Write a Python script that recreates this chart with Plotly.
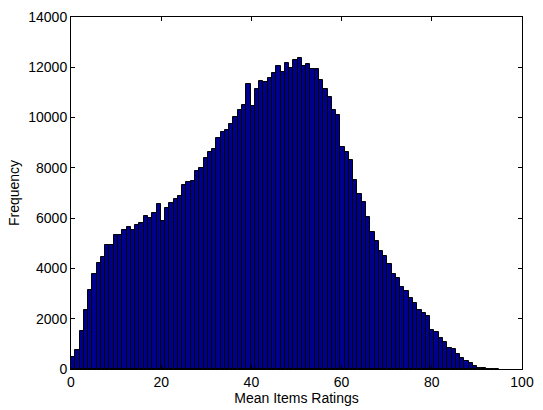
import plotly.graph_objects as go

counts = [476, 774, 1521, 2334, 3134, 3780, 4230, 4450, 4940, 4920,
          5315, 5340, 5534, 5663, 5534, 5714, 5805, 6088, 6011, 6192,
          6579, 5870, 6412, 6617, 6772, 6880, 7314, 7418, 7482, 7895,
          8011, 8385, 8617, 8746, 9199, 9443, 9520, 9752, 10036, 10300,
          10488, 11327, 10475, 11146, 11443, 11404, 11559, 11791, 12048, 11830,
          12152, 11990, 12275, 12365, 12040, 12113, 11931, 11931, 11494, 11118,
          10824, 10320, 10100, 8845, 8637, 8326, 7530, 6977, 6643, 6037,
          5430, 5096, 4683, 4476, 4167, 3766, 3611, 3251, 3083, 2813,
          2620, 2349, 2245, 2117, 1548, 1480, 1230, 1090, 850, 800,
          593, 438, 335, 219, 129, 52, 26, 10, 5, 2]
bin_width = 0.948
centers = [bin_width * (i + 0.5) for i in range(len(counts))]

x_ticks = [0, 20, 40, 60, 80, 100]
x_tick_labels = ["0", "20", "40", "60", "80", "100"]
y_ticks = [0, 2000, 4000, 6000, 8000, 10000, 12000, 14000]
y_tick_labels = ["0", "2000", "4000", "6000", "8000", "10000", "12000", "14000"]

fig = go.Figure()
fig.add_bar(x=centers, y=counts, width=bin_width,
            marker=dict(color="rgb(0,0,143)", line=dict(color="black", width=1)))

font = dict(family="Liberation Sans, Arial, sans-serif", size=14, color="black")
fig.update_layout(
    width=543, height=410,
    margin=dict(l=71, r=13, t=9, b=39, pad=0),
    paper_bgcolor="white", plot_bgcolor="white",
    font=font, bargap=0, showlegend=False,
    xaxis=dict(range=[0, 100], tickvals=x_ticks, ticktext=x_tick_labels,
               ticks="inside", ticklen=4,
               tickcolor="black", showline=True, linecolor="black", linewidth=1,
               mirror="ticks", showgrid=False, zeroline=False,
               title=dict(text="Mean Items Ratings", standoff=1, font=font)),
    yaxis=dict(range=[0, 14000], tickvals=y_ticks, ticktext=y_tick_labels,
               ticks="inside", ticklen=4,
               tickcolor="black", showline=True, linecolor="black", linewidth=1,
               mirror="ticks", showgrid=False, zeroline=False,
               title=dict(text="Frequency", standoff=5, font=font)),
)
fig.write_html("out.html")
